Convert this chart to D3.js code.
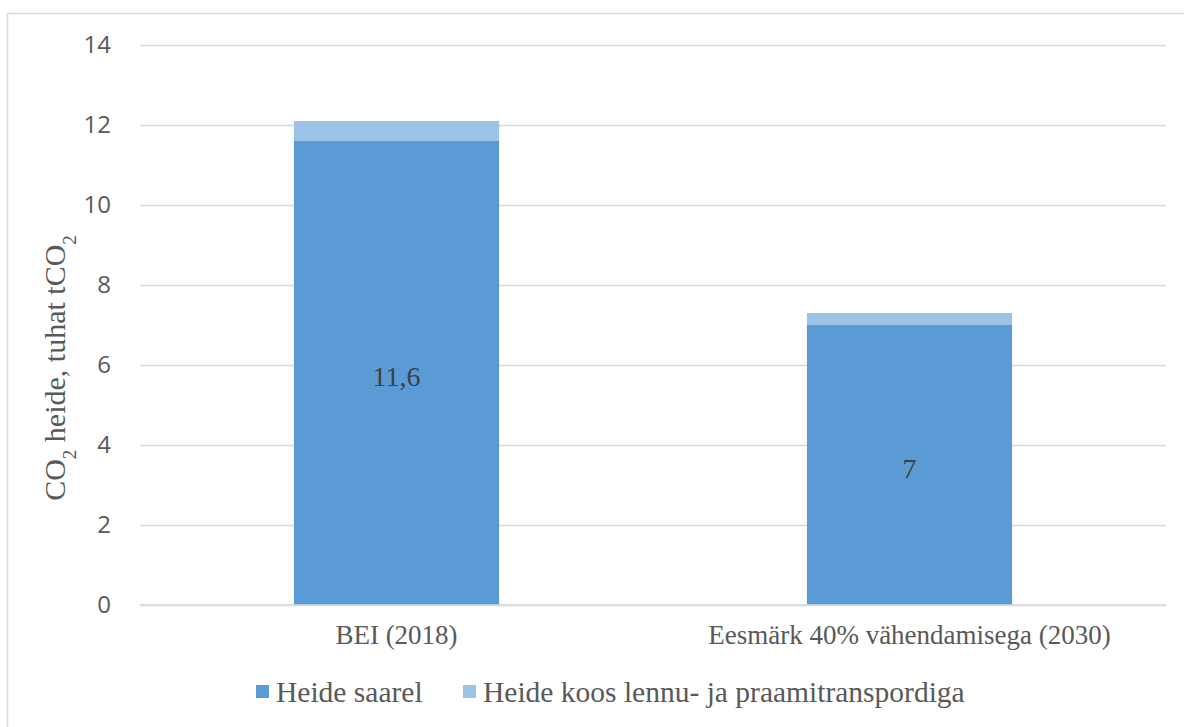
<!DOCTYPE html>
<html>
<head>
<meta charset="utf-8">
<script src="https://cdn.jsdelivr.net/npm/d3@7"></script>
<style>
html,body{margin:0;padding:0;background:#fff;}
svg{display:block;}
</style>
</head>
<body>
<svg id="chart" width="1184" height="727"></svg>
<script>
const categories = ["BEI (2018)", "Eesmärk 40% vähendamisega (2030)"];
const seriesNames = ["Heide saarel", "Heide koos lennu- ja praamitranspordiga"];
const heideSaarel = [11.6, 7.0];
const heideKoos = [0.5, 0.3];
const dataLabels = ["11,6", "7"];
const yTicks = [0, 2, 4, 6, 8, 10, 12, 14];
const colors = ["#5B9BD5", "#9DC3E6"];

const svg = d3.select("#chart");
const W = 1184, H = 727;
const m = {left: 140, right: 18, top: 45, bottom: 122};

svg.append("rect").attr("x", 7.5).attr("y", 13.5).attr("width", W).attr("height", H)
  .attr("fill", "#fff").attr("stroke", "#D9D9D9").attr("stroke-width", 1.5);

const x = d3.scaleBand().domain(categories).range([m.left, W - m.right])
  .paddingInner(0.6).paddingOuter(0.3);
const y = d3.scaleLinear().domain([0, 14]).range([H - m.bottom, m.top]);

// gridlines
const yAxis = d3.axisLeft(y).tickValues(yTicks).tickSize(-(W - m.right - m.left)).tickPadding(29)
  .tickFormat(d3.format("d"));
const gy = svg.append("g").attr("transform", `translate(${m.left},0)`).call(yAxis);
gy.select(".domain").remove();
gy.selectAll(".tick line").attr("stroke", "#D9D9D9").attr("stroke-width", 1.5);
gy.selectAll(".tick text").attr("fill", "#595959").style("font-family", "'Open Sans', sans-serif")
  .style("font-size", "24px");

const rows = categories.map((c, i) => ({cat: c, a: heideSaarel[i], b: heideKoos[i]}));
const stack = d3.stack().keys(["a", "b"])(rows);

svg.append("g").selectAll("g").data(stack).join("g")
  .attr("fill", (d, i) => colors[i])
  .selectAll("rect").data(d => d).join("rect")
  .attr("x", d => x(d.data.cat))
  .attr("width", x.bandwidth())
  .attr("y", d => y(d[1]))
  .attr("height", d => y(d[0]) - y(d[1]));

// data labels
svg.append("g").selectAll("text").data(rows).join("text")
  .attr("x", d => x(d.cat) + x.bandwidth() / 2)
  .attr("y", d => y(d.a / 2) + 3)
  .attr("dy", "0.35em")
  .attr("text-anchor", "middle")
  .attr("fill", "#404040")
  .style("font-family", "'Liberation Serif', serif")
  .style("font-size", "28px")
  .text((d, i) => dataLabels[i]);

// x axis baseline + labels
const xAxis = d3.axisBottom(x).tickSize(0).tickPadding(20);
const gx = svg.append("g").attr("transform", `translate(0,${y(0)})`).call(xAxis);
gx.select(".domain").attr("stroke", "#D9D9D9").attr("stroke-width", 1.5)
  .attr("d", `M${m.left},0H${W - m.right}`);
gx.selectAll(".tick text").attr("fill", "#595959")
  .style("font-family", "'Liberation Serif', serif").style("font-size", "27px");

// y axis title
const yt = svg.append("text")
  .attr("transform", `translate(65,368) rotate(-90)`)
  .attr("text-anchor", "middle")
  .attr("fill", "#595959")
  .style("font-family", "'Liberation Serif', serif")
  .style("font-size", "30px");
yt.append("tspan").text("CO");
yt.append("tspan").attr("baseline-shift", "sub").style("font-size", "19px").text("2");
yt.append("tspan").text(" heide, tuhat tCO");
yt.append("tspan").attr("baseline-shift", "sub").style("font-size", "19px").text("2");

// legend
const legend = svg.append("g").attr("transform", "translate(0,692)");
const legX = [256, 463];
seriesNames.forEach((s, i) => {
  const g = legend.append("g").attr("transform", `translate(${legX[i]},0)`);
  g.append("rect").attr("x", 0).attr("y", -7).attr("width", 13).attr("height", 13).attr("fill", colors[i]);
  g.append("text").attr("x", 20).attr("y", 0).attr("dy", "0.35em")
    .attr("fill", "#595959")
    .style("font-family", "'Liberation Serif', serif").style("font-size", "29.5px")
    .text(s);
});
</script>
</body>
</html>
